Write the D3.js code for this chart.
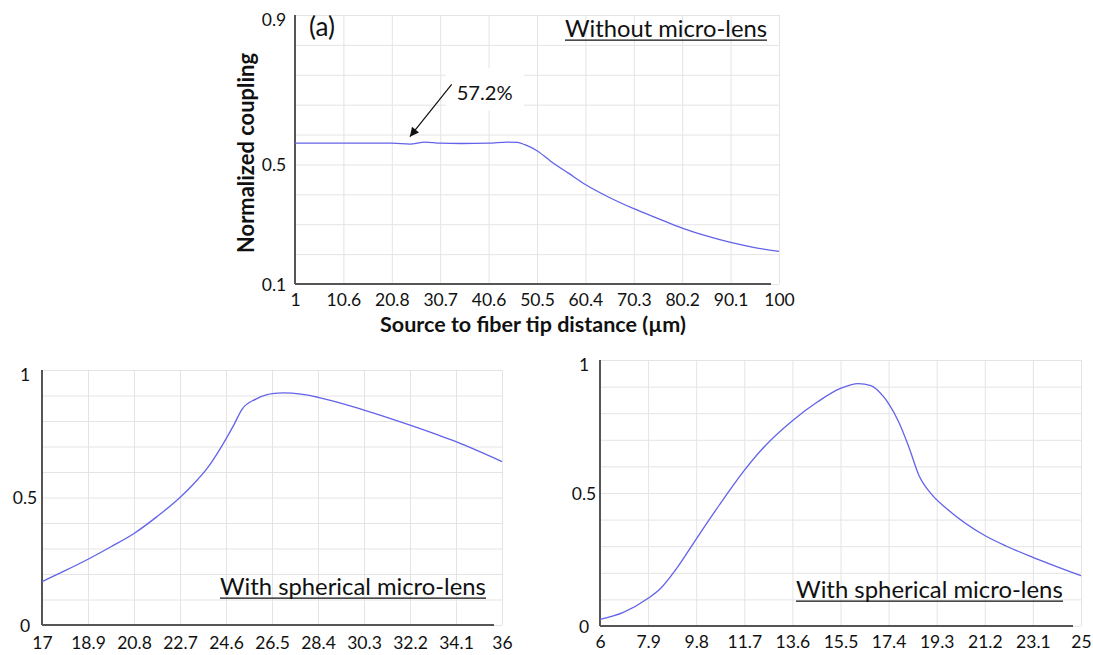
<!DOCTYPE html>
<html><head><meta charset="utf-8">
<script src="https://cdn.jsdelivr.net/npm/d3@7"></script>
<style>
body{margin:0;background:#fff}
svg{display:block}
text{font-family:Lato,"Open Sans",sans-serif;fill:#111}
</style>
</head><body>
<svg id="c" width="1093" height="655"></svg>
<script>
// ---------- Data ----------
// Panel (a): without micro-lens
const topDist = [1, 10.9, 17, 20.8, 24.5, 27.6, 30.7, 35, 40.6, 44.4, 46.5, 48, 50.5, 53.3, 57, 60.4, 65, 70.3, 75.3, 80.2, 85.5, 90.1, 95, 100];
const topCoupling = [0.571, 0.571, 0.571, 0.571, 0.568, 0.575, 0.571, 0.570, 0.571, 0.575, 0.574, 0.566, 0.546, 0.511, 0.470, 0.433, 0.392, 0.352, 0.319, 0.287, 0.259, 0.239, 0.222, 0.209];
const topTickValues = [1, 10.9, 20.8, 30.7, 40.6, 50.5, 60.4, 70.3, 80.2, 90.1, 100];
const topTickLabels = ["1", "10.6", "20.8", "30.7", "40.6", "50.5", "60.4", "70.3", "80.2", "90.1", "100"];
const topYTickValues = [0.1, 0.5, 1.0];
const topYTickLabels = ["0.1", "0.5", "0.9"];
const topYGrid = [0.1, 0.2, 0.3, 0.4, 0.5, 0.6, 0.7, 0.8, 0.9, 1.0];

// Bottom-left: with spherical micro-lens
const blDist = [17, 17.95, 18.9, 19.85, 20.8, 21.75, 22.71, 23.26, 23.82, 24.37, 24.92, 25.26, 25.81, 26.3, 26.5, 27.0, 27.7, 28.4, 30.3, 32.2, 34.1, 36];
const blCoupling = [0.170, 0.213, 0.258, 0.307, 0.359, 0.425, 0.501, 0.553, 0.614, 0.693, 0.784, 0.846, 0.885, 0.903, 0.907, 0.910, 0.905, 0.893, 0.843, 0.784, 0.719, 0.641];
const blTickValues = [17, 18.9, 20.8, 22.7, 24.6, 26.5, 28.4, 30.3, 32.2, 34.1, 36];
const blTickLabels = ["17", "18.9", "20.8", "22.7", "24.6", "26.5", "28.4", "30.3", "32.2", "34.1", "36"];

// Bottom-right: with spherical micro-lens
const brDist = [6, 6.9, 7.9, 8.4, 9.0, 9.8, 10.7, 11.7, 12.5, 13.6, 14.6, 15.5, 16.2, 16.7, 17.2, 17.4, 17.8, 18.2, 18.6, 19.1, 19.7, 21.2, 22.1, 23.1, 25];
const brCoupling = [0.025, 0.050, 0.104, 0.142, 0.213, 0.327, 0.453, 0.585, 0.675, 0.772, 0.843, 0.893, 0.911, 0.904, 0.862, 0.836, 0.767, 0.673, 0.566, 0.495, 0.441, 0.340, 0.298, 0.258, 0.189];
const brTickValues = [6, 7.9, 9.8, 11.7, 13.6, 15.5, 17.4, 19.3, 21.2, 23.1, 25];
const brTickLabels = ["6", "7.9", "9.8", "11.7", "13.6", "15.5", "17.4", "19.3", "21.2", "23.1", "25"];

const bottomYTickValues = [0, 0.5, 1];
const bottomYTickLabels = ["0", "0.5", "1"];
const bottomYGrid = [0, 0.1, 0.2, 0.3, 0.4, 0.5, 0.6, 0.7, 0.8, 0.9, 1.0];

// Annotation (data coordinates of panel a)
const annotText = "57.2%";
const annotTip = [24.5, 0.593];
const annotTail = [33.05, 0.768];

// ---------- Drawing ----------
const svg = d3.select("#c");
const LINE = "#6262ea";
const GRID = "#e4e4e4";
const AXIS = "#555";
const TICKFONT = "17.5px";

function fit(sel, target) {
  const w = sel.node().getComputedTextLength();
  const fs = parseFloat(sel.style("font-size"));
  sel.style("font-size", (fs * target / w) + "px");
}

function panel(o) {
  const x = d3.scaleLinear().domain(o.xDomain).range([o.left, o.right]);
  const y = d3.scaleLinear().domain(o.yDomain).range([o.bottom, o.top]);
  const g = svg.append("g");
  const h = o.bottom - o.top, w = o.right - o.left;

  const gx = g.append("g").attr("transform", `translate(0,${o.bottom})`)
    .call(d3.axisBottom(x).tickValues(o.xTicks).tickSize(-h).tickFormat(""));
  gx.select(".domain").remove();
  gx.selectAll("line").attr("stroke", GRID).attr("stroke-width", 1);
  const gy = g.append("g").attr("transform", `translate(${o.left},0)`)
    .call(d3.axisLeft(y).tickValues(o.yGrid).tickSize(-w).tickFormat(""));
  gy.select(".domain").remove();
  gy.selectAll("line").attr("stroke", GRID).attr("stroke-width", 1);

  g.append("line").attr("x1", o.left).attr("x2", o.left).attr("y1", o.top).attr("y2", o.bottom)
    .attr("stroke", AXIS).attr("stroke-width", 2);
  g.append("line").attr("x1", o.left).attr("x2", o.right - 8).attr("y1", o.bottom).attr("y2", o.bottom)
    .attr("stroke", AXIS).attr("stroke-width", 2);

  const xl = g.append("g").attr("transform", `translate(0,${o.bottom})`)
    .call(d3.axisBottom(x).tickValues(o.xTicks).tickSize(0).tickFormat((d, i) => o.xLabels[i]));
  xl.select(".domain").remove();
  xl.selectAll("text").attr("y", o.xLabelOff).attr("dy", "0.35em")
    .style("font-size", TICKFONT).style("font-family", "Lato").attr("fill", "#111");

  const yl = g.append("g").attr("transform", `translate(${o.left},0)`)
    .call(d3.axisLeft(y).tickValues(o.yTicks).tickSize(0).tickFormat((d, i) => o.yLabels[i]));
  yl.select(".domain").remove();
  yl.selectAll("text").attr("x", -o.yLabelOff).attr("text-anchor", "middle").attr("dy", "0.35em")
    .style("font-size", TICKFONT).style("font-family", "Lato").attr("fill", "#111");
  yl.selectAll(".tick").filter(d => d === o.yDomain[1]).select("text").attr("dy", "0.6em");

  const line = d3.line().x((d, i) => x(o.xs[i])).y(d => y(d)).curve(d3.curveMonotoneX);
  g.append("path").datum(o.ys).attr("d", line).attr("fill", "none")
    .attr("stroke", LINE).attr("stroke-width", 1.3);

  if (o.caption) {
    const t = g.append("text").attr("x", o.caption.x).attr("y", o.caption.y)
      .style("font-size", "23px").text(o.caption.text);
    fit(t, o.caption.w);
    g.append("line").attr("x1", o.caption.x).attr("x2", o.caption.x + o.caption.w)
      .attr("y1", o.caption.y + 3.2).attr("y2", o.caption.y + 3.2)
      .attr("stroke", "#111").attr("stroke-width", 1.3);
  }
  return {x, y, g};
}

// Panel (a)
const pa = panel({
  left: 295, right: 779, top: 15, bottom: 284,
  xDomain: [1, 100], yDomain: [0.1, 1.0],
  xTicks: topTickValues, xLabels: topTickLabels,
  yTicks: topYTickValues, yLabels: topYTickLabels, yGrid: topYGrid,
  xLabelOff: 16, yLabelOff: 21,
  xs: topDist, ys: topCoupling,
  caption: {text: "Without micro-lens", x: 565, y: 37, w: 202}
});

const ax = pa.x, ay = pa.y;
const tx = ax(annotTail[0]) + 5, ty = ay(annotTail[1]) + 9;
pa.g.append("rect").attr("x", tx - 11).attr("y", ty - 25).attr("width", 78).attr("height", 42).attr("fill", "#fff");
const at = pa.g.append("text").attr("x", tx).attr("y", ty).attr("dy", "0.35em")
  .style("font-size", "20px").text(annotText);
fit(at, 56);
const defs = svg.append("defs");
defs.append("marker").attr("id", "arr").attr("viewBox", "0 0 10 10").attr("refX", 10).attr("refY", 5)
  .attr("markerWidth", 11).attr("markerHeight", 9).attr("markerUnits", "userSpaceOnUse").attr("orient", "auto")
  .append("path").attr("d", "M0,0 L10,5 L0,10 Z").attr("fill", "#111");
pa.g.append("line").attr("x1", ax(annotTail[0])).attr("y1", ay(annotTail[1]))
  .attr("x2", ax(annotTip[0])).attr("y2", ay(annotTip[1]))
  .attr("stroke", "#111").attr("stroke-width", 1.2).attr("marker-end", "url(#arr)");

const al = svg.append("text").attr("x", 309).attr("y", 27).attr("dy", "0.35em").style("font-size", "22px").text("(a)");
fit(al, 26);

const xt = svg.append("text").attr("x", 533).attr("y", 324).attr("dy", "0.35em").attr("text-anchor", "middle")
  .style("font-size", "18px").style("font-weight", "bold").text("Source to fiber tip distance (µm)");
fit(xt, 306);
const yt = svg.append("text").attr("transform", "translate(246,153) rotate(-90)").attr("dy", "0.35em")
  .attr("text-anchor", "middle").style("font-size", "18px").style("font-weight", "bold").text("Normalized coupling");
fit(yt, 200);

// Bottom-left
panel({
  left: 42, right: 502, top: 370, bottom: 625,
  xDomain: [17, 36], yDomain: [0, 1],
  xTicks: blTickValues, xLabels: blTickLabels,
  yTicks: bottomYTickValues, yLabels: bottomYTickLabels, yGrid: bottomYGrid,
  xLabelOff: 18, yLabelOff: 17,
  xs: blDist, ys: blCoupling,
  caption: {text: "With spherical micro-lens", x: 220, y: 595, w: 266}
});

// Bottom-right
panel({
  left: 600, right: 1081, top: 360, bottom: 626,
  xDomain: [6, 25], yDomain: [0, 1],
  xTicks: brTickValues, xLabels: brTickLabels,
  yTicks: bottomYTickValues, yLabels: bottomYTickLabels, yGrid: bottomYGrid,
  xLabelOff: 16, yLabelOff: 16,
  xs: brDist, ys: brCoupling,
  caption: {text: "With spherical micro-lens", x: 796, y: 598, w: 267}
});
</script>
</body></html>
